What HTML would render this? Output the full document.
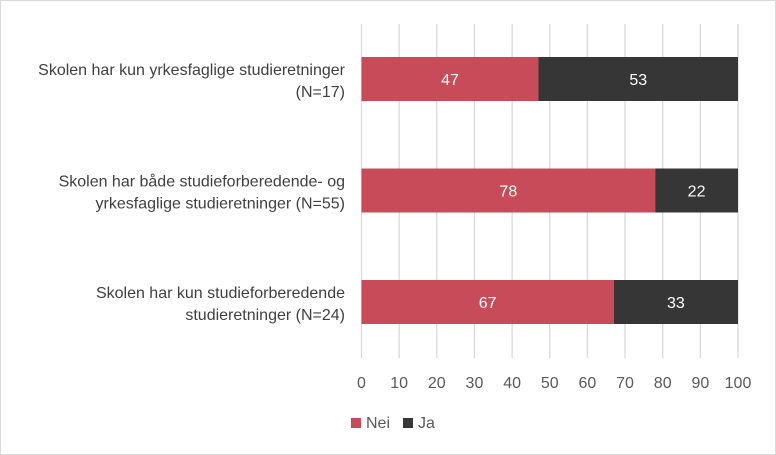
<!DOCTYPE html>
<html><head><meta charset="utf-8"><style>
body{margin:0;background:#fff;}
#c{position:relative;width:776px;height:455px;box-sizing:border-box;border:1px solid #d9d9d9;font-family:"Liberation Sans",sans-serif;}
svg text{font-family:"Liberation Sans",sans-serif;}
</style></head><body>
<div id="c">
<svg id="s" width="776" height="455" style="position:absolute;left:-1px;top:-1px"></svg>
</div>
<script>
const categories=[["Skolen har kun yrkesfaglige studieretninger","(N=17)"],["Skolen har både studieforberedende- og","yrkesfaglige studieretninger (N=55)"],["Skolen har kun studieforberedende","studieretninger (N=24)"]];
const nei=[47,78,67];
const ja=[53,22,33];
const ticks=[0,10,20,30,40,50,60,70,80,90,100];
const NS="http://www.w3.org/2000/svg";
const s=document.getElementById('s');
const x0=361.5,x1=738;
const xs=v=>x0+(x1-x0)*v/100;
const barY=i=>57+i*111.5;
const barH=44;
function el(t,a,txt){const e=document.createElementNS(NS,t);for(const k in a)e.setAttribute(k,a[k]);if(txt!==undefined)e.textContent=txt;s.appendChild(e);return e;}
ticks.forEach(t=>{
 const g=el('line',{x1:xs(t),x2:xs(t),y1:24,y2:358,stroke:'#d9d9d9','stroke-width':1.3});
 
 
 const l=el('text',{x:xs(t),y:388,'text-anchor':'middle','font-size':16,fill:'#595959'},t);
 
 
});
categories.forEach((c,i)=>{
 const y=barY(i),a=xs(0),b=xs(nei[i]),e=xs(nei[i]+ja[i]);
 const r1=el('rect',{x:a,y:y,width:b-a,height:barH,fill:'#c84b5a'});
 
 
 const r2=el('rect',{x:b,y:y,width:e-b,height:barH,fill:'#363636'});
 
 
 const t1=el('text',{x:(a+b)/2,y:y+28,'text-anchor':'middle','font-size':16,fill:'#fff'},nei[i]);
 
 
 const t2=el('text',{x:(b+e)/2,y:y+28,'text-anchor':'middle','font-size':16,fill:'#fff'},ja[i]);
 
 
 c.forEach((ln,k)=>{
  const ct=el('text',{x:345,y:y+18+k*22,'text-anchor':'end','font-size':16,fill:'#404040'},ln);
  
  
 });
});
let r=el('rect',{x:351,y:418,width:10,height:10,fill:'#c84b5a'});


let t=el('text',{x:366,y:428,'font-size':16,fill:'#595959'},'Nei');


r=el('rect',{x:403,y:418,width:10,height:10,fill:'#363636'});


t=el('text',{x:418,y:428,'font-size':16,fill:'#595959'},'Ja');


</script>
</body></html>
